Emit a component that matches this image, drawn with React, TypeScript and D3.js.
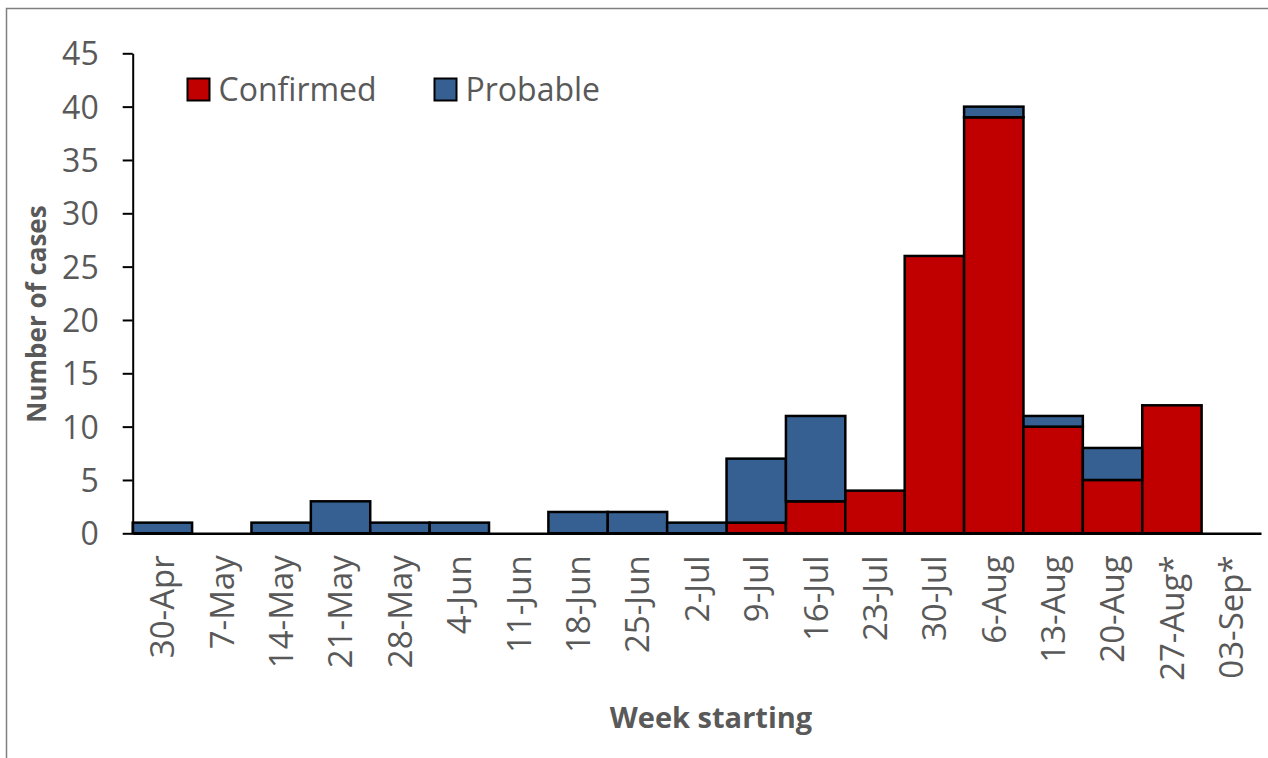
import React, { useEffect, useRef } from 'react';
import * as d3 from 'd3';

const weeks = ['30-Apr', '7-May', '14-May', '21-May', '28-May', '4-Jun', '11-Jun', '18-Jun', '25-Jun', '2-Jul', '9-Jul', '16-Jul', '23-Jul', '30-Jul', '6-Aug', '13-Aug', '20-Aug', '27-Aug*', '03-Sep*'];
const confirmed = [0, 0, 0, 0, 0, 0, 0, 0, 0, 0, 1, 3, 4, 26, 39, 10, 5, 12, 0];
const probable = [1, 0, 1, 3, 1, 1, 0, 2, 2, 1, 6, 8, 0, 0, 1, 1, 3, 0, 0];
const yTicks = [0, 5, 10, 15, 20, 25, 30, 35, 40, 45];
const seriesNames = ['Confirmed', 'Probable'];
const seriesColors = ['#C00000', '#376092'];

const W = 1268;
const H = 758;
const FONT = '"Open Sans", sans-serif';
const GREY = '#595959';

const App: React.FC = () => {
    const ref = useRef<SVGSVGElement>(null);

    useEffect(() => {
        const svg = d3.select(ref.current);
        svg.selectAll('*').remove();

        const left = 132.7, right = 1261, top = 53.3, bottom = 533.3;
        const x = d3.scaleBand().domain(weeks).range([left, right]).padding(0);
        const y = d3.scaleLinear().domain([0, 45]).range([bottom, top]);

        // outer border
        svg.append('rect')
            .attr('x', 6.5).attr('y', 8.5)
            .attr('width', 1400).attr('height', 900)
            .attr('fill', 'none').attr('stroke', '#7f7f7f').attr('stroke-width', 1.5);

        const rows = weeks.map((w, i) => ({ week: w, Confirmed: confirmed[i], Probable: probable[i] }));
        const stacked = d3.stack<any>().keys(seriesNames)(rows);

        stacked.forEach((layer, li) => {
            svg.append('g')
                .selectAll('rect')
                .data(layer.filter((d) => d[1] - d[0] > 0))
                .enter()
                .append('rect')
                .attr('x', (d) => x(d.data.week)!)
                .attr('y', (d) => y(d[1]))
                .attr('width', x.bandwidth())
                .attr('height', (d) => y(d[0]) - y(d[1]))
                .attr('fill', seriesColors[li])
                .attr('stroke', '#000')
                .attr('stroke-width', 2.5);
        });

        // y axis
        const yAxis = svg.append('g')
            .attr('transform', `translate(${left},0)`)
            .call(d3.axisLeft(y).tickValues(yTicks).tickSize(10).tickPadding(24).tickSizeOuter(0));
        yAxis.select('.domain').attr('stroke', '#000').attr('stroke-width', 2);
        yAxis.selectAll('.tick line').attr('stroke', '#000').attr('stroke-width', 2);
        yAxis.selectAll('.tick text')
            .attr('fill', GREY).attr('font-family', FONT).attr('font-size', 32).attr('dy', '0.36em');

        // x axis
        const xAxis = svg.append('g')
            .attr('transform', `translate(0,${bottom})`)
            .call(d3.axisBottom(x).tickSize(0).tickSizeOuter(0));
        xAxis.select('.domain').attr('stroke', '#000').attr('stroke-width', 2.5);
        xAxis.selectAll('.tick text')
            .attr('fill', GREY).attr('font-family', FONT).attr('font-size', 33)
            .attr('text-anchor', 'end')
            .attr('transform', 'rotate(-90)')
            .attr('x', -22).attr('y', 0).attr('dy', '0.36em');

        // axis titles
        svg.append('text')
            .attr('transform', `translate(46,314) rotate(-90)`)
            .attr('text-anchor', 'middle')
            .attr('font-family', FONT).attr('font-weight', 'bold').attr('font-size', 26)
            .attr('fill', GREY)
            .text('Number of cases');
        svg.append('text')
            .attr('x', 711).attr('y', 728)
            .attr('text-anchor', 'middle')
            .attr('font-family', FONT).attr('font-weight', 'bold').attr('font-size', 29)
            .attr('fill', GREY)
            .text('Week starting');

        // legend
        const legendX = [187.5, 434.5];
        seriesNames.forEach((name, i) => {
            svg.append('rect')
                .attr('x', legendX[i]).attr('y', 78.5)
                .attr('width', 22).attr('height', 22)
                .attr('fill', seriesColors[i]).attr('stroke', '#000').attr('stroke-width', 2);
            svg.append('text')
                .attr('x', legendX[i] + 31).attr('y', 101)
                .attr('font-family', FONT).attr('font-size', 32)
                .attr('fill', GREY)
                .text(name);
        });
    }, []);

    return <svg ref={ref} width={W} height={H} style={{ position: 'absolute', left: 0, top: 0, background: '#fff' }} />;
};

export default App;
